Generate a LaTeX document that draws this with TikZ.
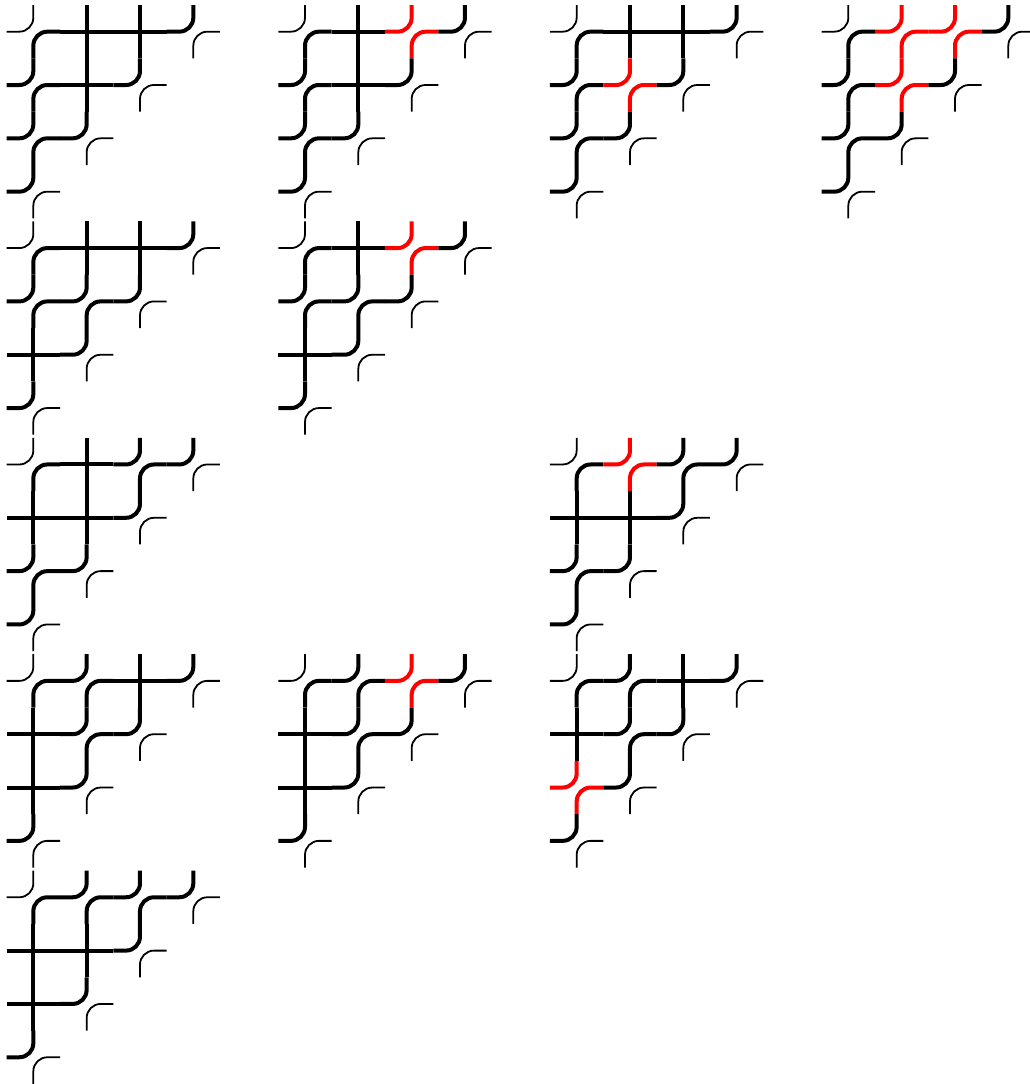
\documentclass[tikz,border=0pt]{standalone}
\newcommand\pdLT[3]{\draw[#3] ({#1-26.67},#2) -- (#1,#2) -- (#1,{#2-26.67});}
\newcommand\pdBR[3]{\draw[#3] (#1,{#2+26.67}) -- (#1,#2) -- ({#1+26.67},#2);}
\newcommand\pdtilee[2]{\pdLT{#1}{#2}{thickpipe}\pdBR{#1}{#2}{thickpipe}}
\newcommand\pdtiler[2]{\pdLT{#1}{#2}{redpipe}\pdBR{#1}{#2}{redpipe}}
\newcommand\pdtilef[2]{\pdLT{#1}{#2}{thinpipe}\pdBR{#1}{#2}{thickpipe}}
\newcommand\pdtilea[2]{\pdLT{#1}{#2}{thickpipe}\pdBR{#1}{#2}{thinpipe}}
\newcommand\pdtilex[2]{\draw[thickpipe] ({#1-26.67},#2) -- ({#1+26.67},#2);\draw[thickpipe] (#1,{#2-26.67}) -- (#1,{#2+26.67});}
\newcommand\pddiagram[3]{%
  \foreach \rowlist [count=\rowi] in {#3} {%
    \foreach \tiletype [count=\coli] in \rowlist {%
      \pgfmathsetmacro\pdcx{#1+33.33+(\coli-1)*53.33}%
      \pgfmathsetmacro\pdcy{#2+31.67+(\rowi-1)*53.33}%
      \csname pdtile\tiletype\endcsname{\pdcx}{\pdcy}%
    }%
  }}
\begin{document}
\begin{tikzpicture}[x=1pt,y=-1pt,
  thickpipe/.style={line width=4pt,black,rounded corners=14pt},
  thinpipe/.style={line width=1.8pt,black,rounded corners=14pt},
  redpipe/.style={line width=4pt,red,rounded corners=14pt}]
\useasboundingbox[fill=white] (0,0) rectangle (1030,1084);
% row 1
\pddiagram{0}{0}{{f,x,x,a},{e,x,a},{e,a},{a}}
\pddiagram{271.67}{0}{{f,x,r,a},{e,x,a},{e,a},{a}}
\pddiagram{543.33}{0}{{f,x,x,a},{e,r,a},{e,a},{a}}
\pddiagram{815}{0}{{f,r,r,a},{e,r,a},{e,a},{a}}
% row 2
\pddiagram{0}{216.4}{{f,x,x,a},{e,e,a},{x,a},{a}}
\pddiagram{271.67}{216.4}{{f,x,r,a},{e,e,a},{x,a},{a}}
% row 3
\pddiagram{0}{432.8}{{f,x,e,a},{x,x,a},{e,a},{a}}
\pddiagram{543.33}{432.8}{{f,r,e,a},{x,x,a},{e,a},{a}}
% row 4
\pddiagram{0}{649.2}{{f,e,x,a},{x,e,a},{x,a},{a}}
\pddiagram{271.67}{649.2}{{f,e,r,a},{x,e,a},{x,a},{a}}
\pddiagram{543.33}{649.2}{{f,e,x,a},{x,e,a},{r,a},{a}}
% row 5
\pddiagram{0}{865.6}{{f,e,e,a},{x,x,a},{x,a},{a}}
\end{tikzpicture}
\end{document}
